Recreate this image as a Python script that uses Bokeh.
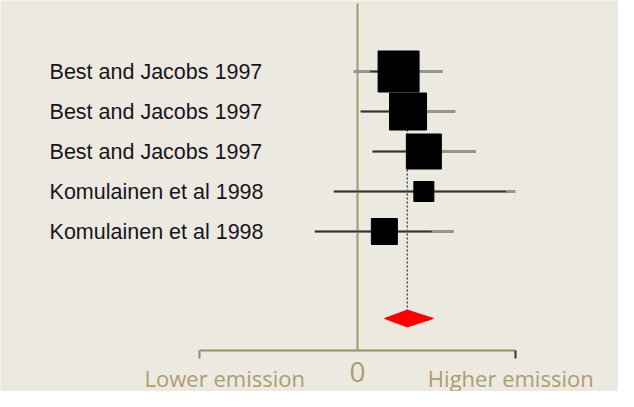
from bokeh.plotting import figure
from bokeh.models import Range1d, ColumnDataSource
from bokeh.core.properties import value
from bokeh.embed import file_html
from bokeh.resources import INLINE

# ---- data ----
studies = ["Best and Jacobs 1997", "Best and Jacobs 1997", "Best and Jacobs 1997",
           "Komulainen et al 1998", "Komulainen et al 1998"]
row_pos = [5, 4, 3, 2, 1]
effect = [0.26, 0.32, 0.42, 0.42, 0.17]
ci_low = [-0.025, 0.02, 0.095, -0.15, -0.27]
ci_high = [0.54, 0.62, 0.75, 1.0, 0.61]
inner_low = [0.08, 0.02, 0.095, -0.15, -0.27]
inner_high = [0.26, 0.32, 0.42, 0.94, 0.47]
weight = [41, 37, 35, 20, 26]
pooled = 0.315
pooled_low = 0.171
pooled_high = 0.481
axis_ticks = [-1.0, 1.0]
axis_labels = ["Lower emission", "0", "Higher emission"]
axis_label_x = [-0.84, 0.0, 0.97]

BG = "#ECE9E0"
OLIVE = "#A39A70"
TAN = "#AC9D6F"

p = figure(width=618, height=391, output_backend="svg", toolbar_location=None,
           x_range=Range1d(-2.2595, 1.6519), y_range=Range1d(-3.0, 6.775),
           min_border=0, background_fill_color=BG, border_fill_color=BG,
           outline_line_color=None)
p.xaxis.visible = False
p.yaxis.visible = False
p.xgrid.visible = False
p.ygrid.visible = False

axis_y = -1.975
pooled_y = -1.175

# zero line
p.segment(x0=[0], y0=[6.7], x1=[0], y1=[axis_y], line_color=OLIVE, line_width=2)

# dotted line at pooled estimate
p.segment(x0=[pooled], y0=[3.55], x1=[pooled], y1=[pooled_y + 0.2],
          line_color="#3a3a3a", line_width=1.3, line_dash="2 2")

src = ColumnDataSource(dict(y=row_pos, eff=effect, lo=ci_low, hi=ci_high,
                            ilo=inner_low, ihi=inner_high, w=weight, name=studies))

# confidence intervals
p.segment(x0="lo", y0="y", x1="hi", y1="y", source=src, line_color="#959590", line_width=3)
p.segment(x0="ilo", y0="y", x1="ihi", y1="y", source=src, line_color="#333333", line_width=1.6)

# squares
p.scatter(x="eff", y="y", size="w", marker="square", source=src,
          fill_color="black", line_color="black")

# pooled diamond
p.patch(x=[pooled_low, pooled, pooled_high, pooled],
        y=[pooled_y, pooled_y + 0.21, pooled_y, pooled_y - 0.21],
        fill_color="#FF0000", line_color="#FF0000", line_width=1)

# study labels
p.text(x=[-1.949] * len(studies), y=row_pos, text=studies,
       text_font=value("Liberation Sans"), text_font_size="21.5px",
       text_color="#161620", text_baseline="middle", text_align="left")

# bottom axis
p.segment(x0=[axis_ticks[0]], y0=[axis_y], x1=[axis_ticks[1]], y1=[axis_y],
          line_color="#9A9066", line_width=2)
p.segment(x0=axis_ticks, y0=[axis_y, axis_y], x1=axis_ticks, y1=[axis_y - 0.2, axis_y - 0.2],
          line_color=["#8A8A80", "#333333"], line_width=2)

# axis labels
p.text(x=[axis_label_x[0], axis_label_x[2]], y=[-2.65, -2.65],
       text=[axis_labels[0], axis_labels[2]],
       text_font=value("Open Sans"), text_font_size="22px", text_color=TAN,
       text_baseline="middle", text_align="center")
p.text(x=[axis_label_x[1]], y=[-2.5], text=[axis_labels[1]],
       text_font=value("Open Sans"), text_font_size="28px", text_color=TAN,
       text_baseline="middle", text_align="center")

open("out.html", "w").write(file_html(p, INLINE))
